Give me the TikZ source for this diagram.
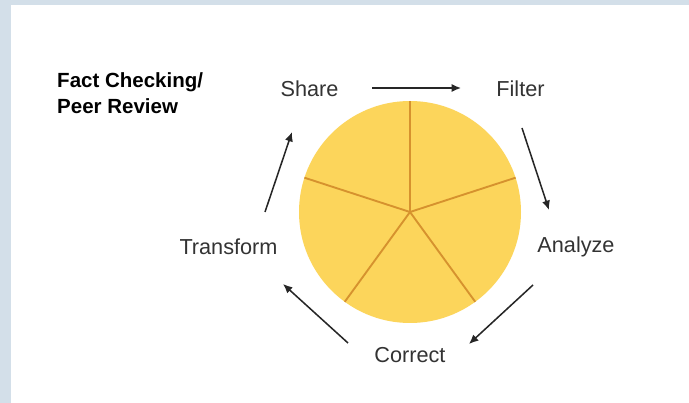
\documentclass[tikz,border=0pt]{standalone}
\usepackage{fontspec}
\setmainfont{Liberation Sans}
\usepackage{xcolor}
\usepackage{tikz}
\usetikzlibrary{positioning,calc,arrows.meta}

\definecolor{pagebg}{HTML}{D3DFE9}
\definecolor{wedge}{HTML}{FCD55B}
\definecolor{spoke}{HTML}{D6922E}
\definecolor{labelgray}{HTML}{333333}

\tikzset{
    stagelabel/.style={text=labelgray, font=\fontsize{18.5}{22}\selectfont, inner sep=0pt},
    cyclearrow/.style={-{Latex[length=8pt,width=7pt]}, line width=1.3pt, black!85},
}

\begin{document}
\begin{tikzpicture}[x=0.03cm, y=-0.03cm]
    % Page background
    \useasboundingbox (0,0) rectangle (689,403);
    \fill[pagebg] (0,0) rectangle (689,403);
    \fill[white] (11,5) rectangle (689,403);

    % Title
    \node[anchor=west, align=left, font=\bfseries\fontsize{17.5}{22.5}\selectfont, inner sep=0pt] (title) at (57,93) {Fact Checking/\\Peer Review};

    % Pie with five slices
    \coordinate (hub) at (410,212);
    \fill[wedge] (hub) circle (111);
    \foreach \a in {-90,-18,54,126,198}
        \draw[spoke, line width=1.6pt] (hub) -- ++(\a:111);

    % Cycle labels
    \node[stagelabel] (share) at (309.5,89) {Share};
    \node[stagelabel] (filter) at (520.5,89) {Filter};
    \node[stagelabel] (analyze) at (576,247) {Analyze};
    \node[stagelabel] (correct) at (410,355) {Correct};
    \node[stagelabel] (transform) at (228.5,247) {Transform};

    % Arrows between stages
    \draw[cyclearrow] ($(share)+(62.5,-1)$) -- ($(filter)+(-59.5,-1)$);
    \draw[cyclearrow] ($(filter)+(1.5,39)$) -- ($(analyze)+(-27,-37)$);
    \draw[cyclearrow] ($(analyze)+(-43,38)$) -- ($(correct)+(59,-11)$);
    \draw[cyclearrow] ($(correct)+(-62,-12)$) -- ($(transform)+(54.5,37)$);
    \draw[cyclearrow] ($(transform)+(36.5,-35)$) -- ($(share)+(-17.5,43)$);
\end{tikzpicture}
\end{document}
